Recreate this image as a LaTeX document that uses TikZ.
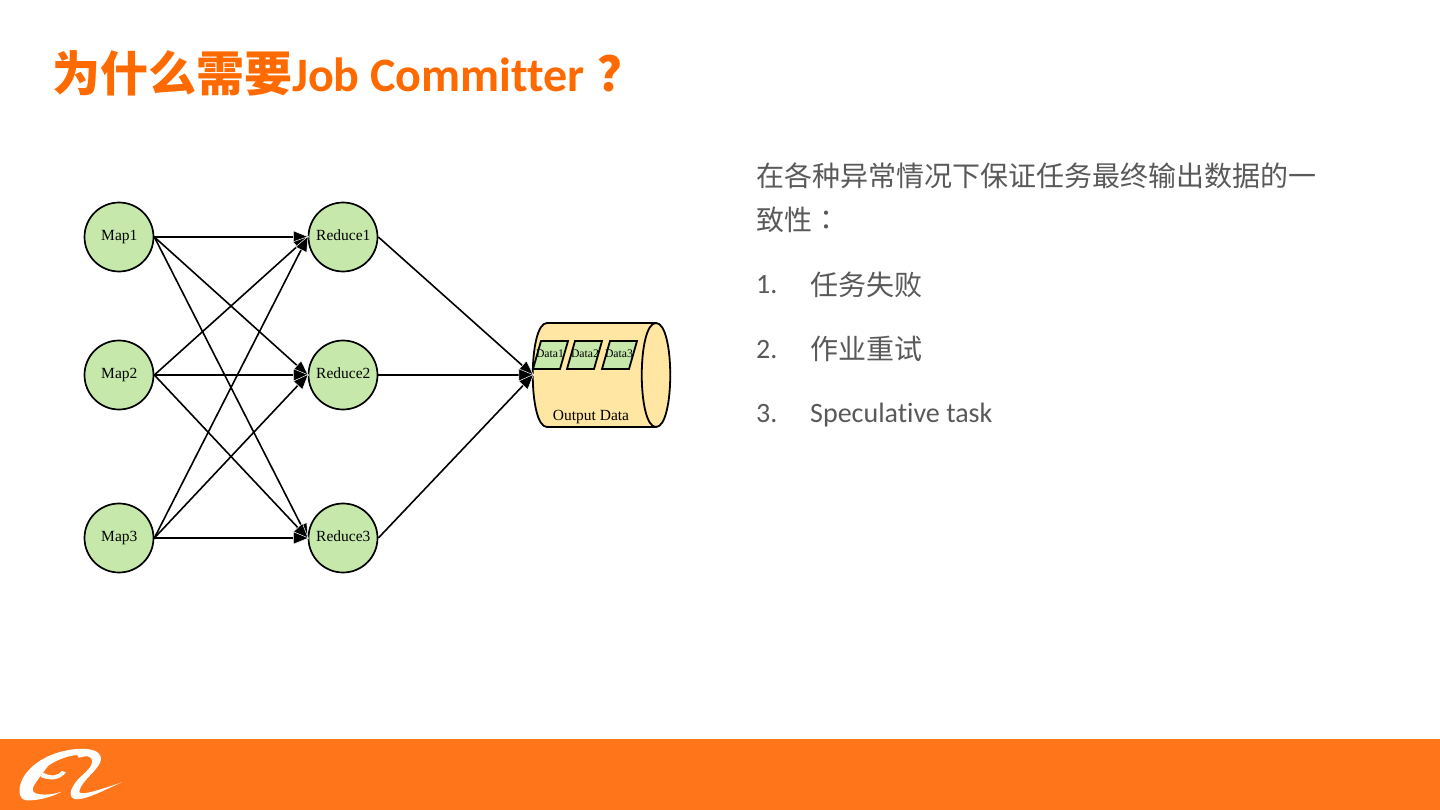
\documentclass[tikz,border=0pt]{standalone}
\usepackage{fontspec}
\setmainfont[Ligatures=NoCommon]{Carlito}
\newfontfamily\cjk{Noto Sans CJK SC}
\newfontfamily\cjktc{Noto Sans CJK TC}
\newfontfamily\serifl{Liberation Serif}
\usetikzlibrary{arrows.meta,shapes.geometric}
\definecolor{barorange}{HTML}{FF751A}
\definecolor{titleorange}{HTML}{FF6A00}
\definecolor{greytext}{HTML}{595959}
\definecolor{nodegreen}{HTML}{C6E8AA}
\definecolor{cylyellow}{HTML}{FFE6A3}
\newcommand{\proclabel}[1]{\raisebox{2pt}{\vphantom{p}\hspace{0.6pt}#1}}
\tikzset{
  proc/.style={circle,draw=black,fill=nodegreen,line width=1.7pt,minimum size=69pt,inner sep=0pt,font=\serifl\fontsize{15.5}{17}\selectfont},
  conn/.style={line width=1.6pt,shorten >=-1.5pt,-{Triangle[length=16pt,width=13pt,line width=0.5pt,color=white,fill=black]}},
  datapar/.style={draw=black,fill=nodegreen,line width=1.8pt},
  datatext/.style={inner sep=0pt,font=\serifl\fontsize{11.7}{13}\selectfont},
  body/.style={anchor=base west,inner sep=0pt,text=greytext},
  cjkbody/.style={body,font=\cjk\fontsize{28}{30}\selectfont},
  numbody/.style={body,font=\fontsize{28}{30}\selectfont},
  titlecjk/.style={anchor=base west,inner sep=0pt,text=titleorange,font=\cjk\bfseries\fontsize{48}{50}\selectfont},
  titlelat/.style={anchor=base west,inner sep=0pt,text=titleorange,font=\bfseries\fontsize{48}{50}\selectfont},
}
\begin{document}
\begin{tikzpicture}[x=1pt,y=-1pt]
\useasboundingbox (0,0) rectangle (1440,810);
\fill[barorange] (0,739) rectangle (1440,810);
% logo
\begin{scope}[shift={(0,735)},x=0.3333pt,y=-0.3333pt]
\fill[white] (60,180) .. controls (48,125) and (115,52) .. (230,42)
 .. controls (265,39) and (303,45) .. (303,72)
 .. controls (303,100) and (245,135) .. (238,168)
 .. controls (236,182) and (270,175) .. (365,142)
 .. controls (300,172) and (250,197) .. (225,192)
 .. controls (200,187) and (212,150) .. (250,118)
 .. controls (272,98) and (285,80) .. (272,68)
 .. controls (262,60) and (250,66) .. (236,68)
 -- (232,60)
 .. controls (200,62) and (165,78) .. (145,92)
 .. controls (135,105) and (115,130) .. (103,150)
 .. controls (92,168) and (100,176) .. (120,178)
 .. controls (140,180) and (160,178) .. (185,170)
 .. controls (150,190) and (100,198) .. (80,196)
 .. controls (68,194) and (61,188) .. (60,180) -- cycle;
\fill[white] (128,112) .. controls (150,126) and (175,123) .. (186,108)
 -- (198,112) .. controls (180,136) and (150,138) .. (122,126) -- cycle;
\end{scope}
% title
\node[titlecjk] (t1) at (52,92) {为什么需要};
\node[titlelat] (t2) at (292,92) {Job Committer};
\node[titlecjk] (t3) at (597,92) {？};
% right text
\node[cjkbody] (b1) at (756,187) {在各种异常情况下保证任务最终输出数据的一};
\node[cjkbody] (b2) at (756,231) {致性{\cjktc ：}};
\node[numbody] (n1) at (756,294) {1.};
\node[cjkbody] (c1) at (810,295) {任务失败};
\node[numbody] (n2) at (756,358) {2.};
\node[cjkbody] (c2) at (810,359) {作业重试};
\node[numbody] (n3) at (756,422) {3.};
\node[numbody] (c3) at (810,422) {Speculative task};
% cylinder
\draw[fill=cylyellow,line width=1.8pt] (547,323) -- (656,323)
  .. controls (675,323) and (675,427) .. (656,427) -- (547,427)
  .. controls (528,427) and (528,323) .. (547,323) -- cycle;
\draw[fill=cylyellow,line width=1.8pt] (656,323) .. controls (637,323) and (637,427) .. (656,427);
\coordinate (cylw) at (533,375);
\node[inner sep=0pt,font=\serifl\fontsize{15.5}{17}\selectfont] (outd) at (591,417) {\vphantom{D}Output Data};
% data
\draw[datapar] (541,341) -- (568,341) -- (560,369) -- (533,369) -- cycle;
\draw[datapar] (575,341) -- (602,341) -- (594,369) -- (567,369) -- cycle;
\draw[datapar] (610,341) -- (637,341) -- (629,369) -- (602,369) -- cycle;
\node[datatext] (d1) at (550,354) {Data1};
\node[datatext] (d2) at (585,354) {Data2};
\node[datatext] (d3) at (619,354) {Data3};
% nodes
\node[proc] (m1) at (119,237) {\proclabel{Map1}};
\node[proc] (m2) at (119,375) {\proclabel{Map2}};
\node[proc] (m3) at (119,538) {\proclabel{Map3}};
\node[proc] (r1) at (343,237) {\proclabel{Reduce1}};
\node[proc] (r2) at (343,375) {\proclabel{Reduce2}};
\node[proc] (r3) at (343,538) {\proclabel{Reduce3}};
% connectors
\foreach \a in {m1,m2,m3}
  \foreach \b in {r1,r2,r3}
    \draw[conn] (\a.east) -- (\b.west);
\foreach \b in {r1,r2,r3}
  \draw[conn] (\b.east) -- (cylw);
\end{tikzpicture}
\end{document}
